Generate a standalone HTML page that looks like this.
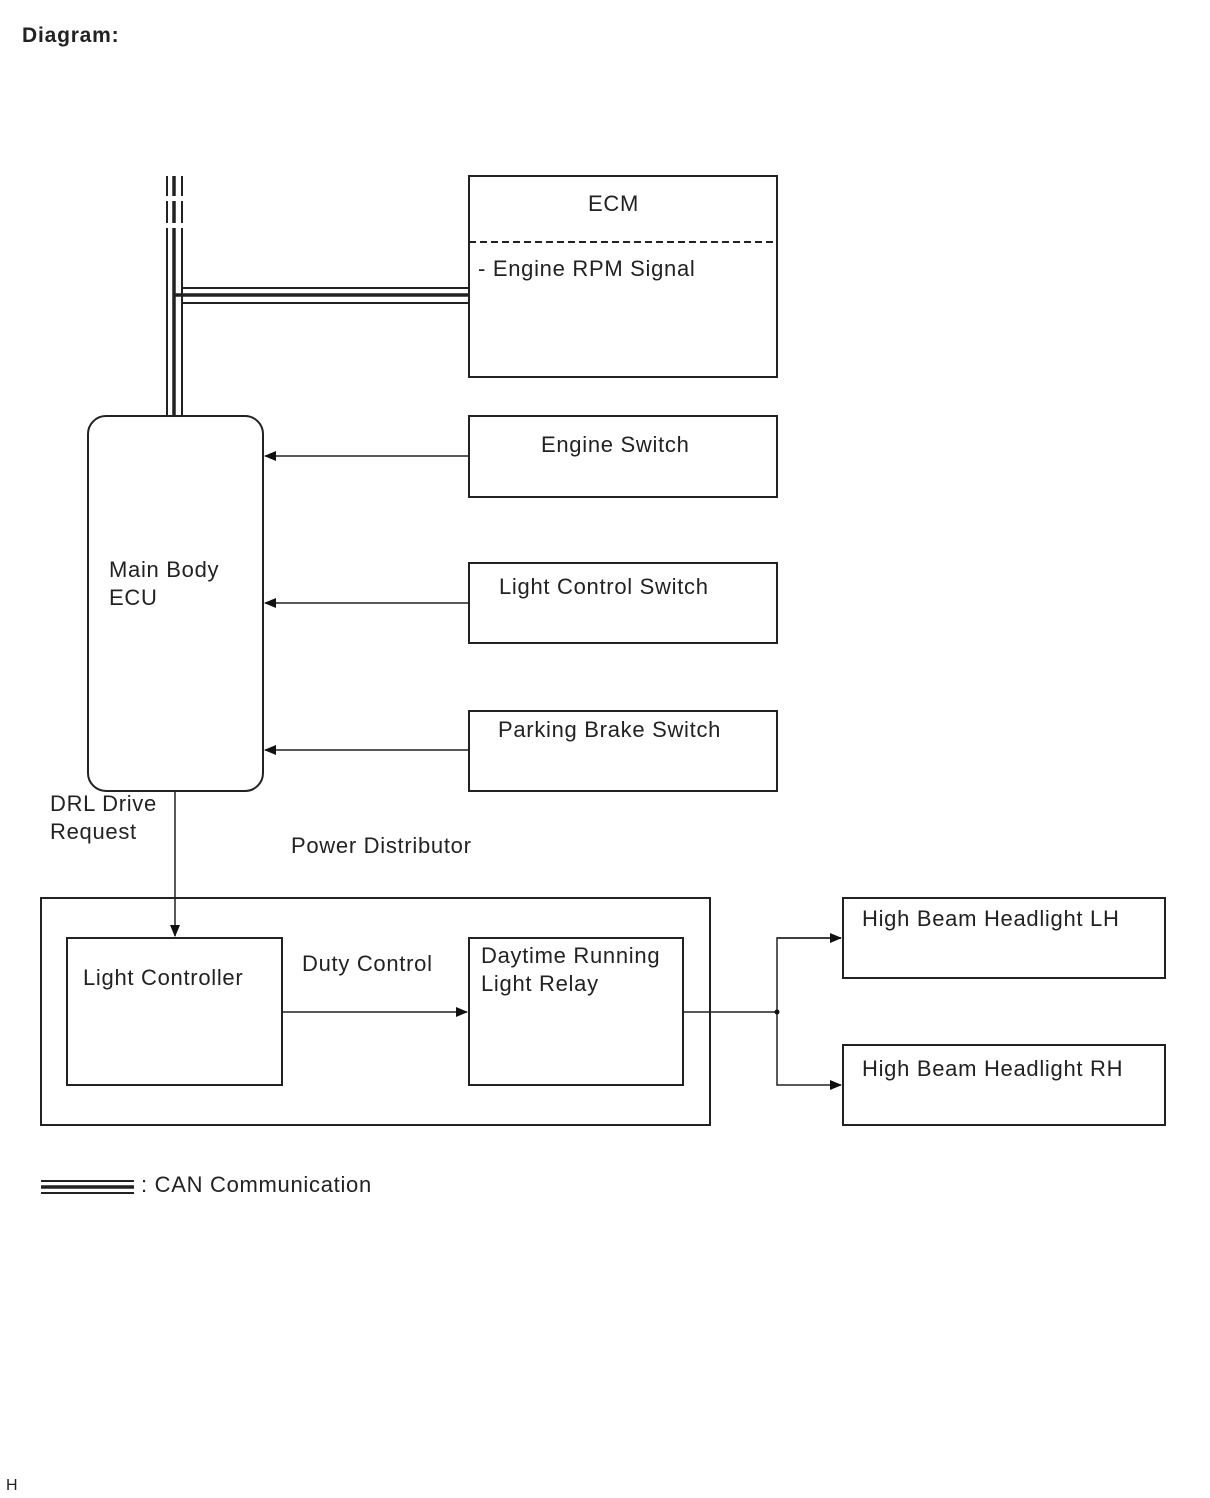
<!DOCTYPE html>
<html><head><style>
html,body{margin:0;padding:0;background:#fff;}
svg{display:block;}
text{font-family:"Liberation Sans",Arial,sans-serif;font-size:22px;letter-spacing:0.7px;fill:#222;}
</style></head><body>
<svg width="1210" height="1498" viewBox="0 0 1210 1498" xmlns="http://www.w3.org/2000/svg">
<defs><marker id="a" markerWidth="12" markerHeight="10" refX="11" refY="5" orient="auto" markerUnits="userSpaceOnUse"><path d="M0,0 L12,5 L0,10 z" fill="#111"/></marker></defs>
<text x="22" y="42" style="font-weight:bold;font-size:21px;letter-spacing:0.8px">Diagram:</text>
<g stroke="#222" fill="none" stroke-width="2">
<g stroke-dasharray="20,5,22,5,2000">
<line x1="167" y1="176" x2="167" y2="416"/>
<line x1="174" y1="176" x2="174" y2="416" stroke-width="3.5"/>
<line x1="182" y1="176" x2="182" y2="416"/>
</g>
<line x1="182" y1="288" x2="469" y2="288"/>
<line x1="174" y1="295" x2="469" y2="295" stroke-width="3.5"/>
<line x1="182" y1="303" x2="469" y2="303"/>
<rect x="469" y="176" width="308" height="201"/>
<line x1="469" y1="242" x2="777" y2="242" stroke-dasharray="7,4"/>
<rect x="88" y="416" width="175" height="375" rx="18"/>
<rect x="469" y="416" width="308" height="81"/>
<rect x="469" y="563" width="308" height="80"/>
<rect x="469" y="711" width="308" height="80"/>
<rect x="41" y="898" width="669" height="227"/>
<rect x="67" y="938" width="215" height="147"/>
<rect x="469" y="938" width="214" height="147"/>
<rect x="843" y="898" width="322" height="80"/>
<rect x="843" y="1045" width="322" height="80"/>
<g stroke-width="1.5">
<line x1="469" y1="456" x2="265" y2="456" marker-end="url(#a)"/>
<line x1="469" y1="603" x2="265" y2="603" marker-end="url(#a)"/>
<line x1="469" y1="750" x2="265" y2="750" marker-end="url(#a)"/>
<line x1="175" y1="791" x2="175" y2="936" marker-end="url(#a)"/>
<line x1="282" y1="1012" x2="467" y2="1012" marker-end="url(#a)"/>
<line x1="683" y1="1012" x2="777" y2="1012"/>
<polyline points="841,938 777,938 777,1085 841,1085" marker-end="url(#a)"/>
<line x1="777" y1="938" x2="841" y2="938" marker-end="url(#a)"/>
</g>
<line x1="41" y1="1181" x2="134" y2="1181"/>
<line x1="41" y1="1187" x2="134" y2="1187" stroke-width="3.5"/>
<line x1="41" y1="1193" x2="134" y2="1193"/>
</g>
<circle cx="777" cy="1012" r="2.5" fill="#111"/>
<text x="588" y="211">ECM</text>
<text x="478" y="276">- Engine RPM Signal</text>
<text x="541" y="452">Engine Switch</text>
<text x="499" y="594">Light Control Switch</text>
<text x="498" y="737">Parking Brake Switch</text>
<text x="109" y="577">Main Body</text>
<text x="109" y="605">ECU</text>
<text x="50" y="811">DRL Drive</text>
<text x="50" y="839">Request</text>
<text x="291" y="853">Power Distributor</text>
<text x="83" y="985">Light Controller</text>
<text x="302" y="971">Duty Control</text>
<text x="481" y="963">Daytime Running</text>
<text x="481" y="991">Light Relay</text>
<text x="862" y="926">High Beam Headlight LH</text>
<text x="862" y="1076">High Beam Headlight RH</text>
<text x="141" y="1192">: CAN Communication</text>
<text x="6" y="1490" style="font-size:16px;letter-spacing:0">H</text>
</svg>
</body></html>
